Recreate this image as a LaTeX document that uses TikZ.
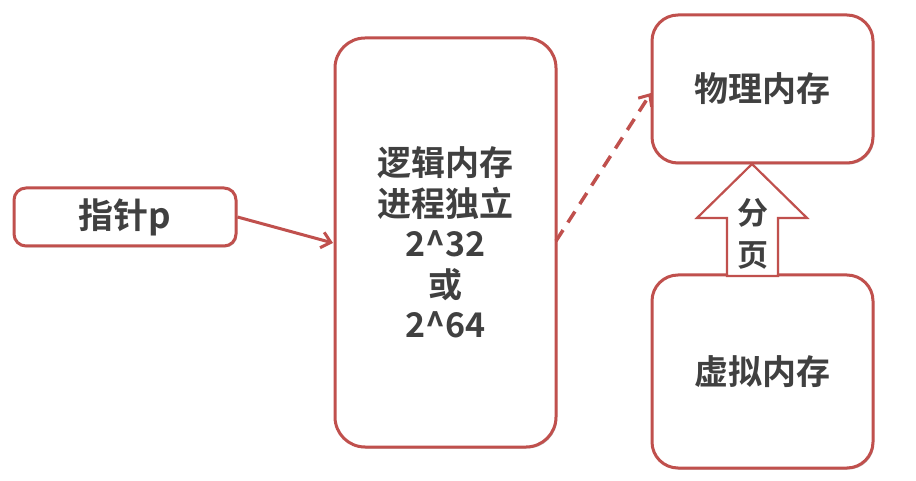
\documentclass[tikz,border=0pt]{standalone}
\usepackage{fontspec}
\setmainfont{Noto Sans CJK SC}[BoldFont={* Bold}]
\usetikzlibrary{arrows.meta,shadows}
\definecolor{boxred}{HTML}{C0504D}
\definecolor{txt}{HTML}{404040}
\tikzset{
  membox/.style={draw=boxred, line width=3pt, fill=white, text=txt,
    font=\fontsize{34}{40.5}\selectfont\bfseries, align=center,
    drop shadow={shadow xshift=1.2pt, shadow yshift=-1.5pt, opacity=0.25, fill=black}},
  conn/.style={draw=boxred, line width=3pt, -{Straight Barb[length=9pt,width=16pt,line width=3pt]}},
}
\begin{document}
\begin{tikzpicture}[x=1pt,y=-1pt]
\useasboundingbox[fill=white] (0,0) rectangle (916,481);
\node[membox, rounded corners=12pt, minimum width=222pt, minimum height=58pt, font=\fontsize{35}{40}\selectfont\bfseries] (ptr) at (125,217) {指针p};
\node[membox, rounded corners=30pt, minimum width=221pt, minimum height=409pt] (logic) at (445.5,242.5) {逻辑内存\\进程独立\\2\textasciicircum32\\或\\2\textasciicircum64};
\node[membox, rounded corners=26pt, minimum width=221pt, minimum height=148pt] (phys) at (762.5,89) {物理内存};
\node[membox, rounded corners=26pt, minimum width=221pt, minimum height=193pt] (virt) at (762.5,371.5) {虚拟内存};
\coordinate (ptrend) at (333,243);
\draw[conn] (ptr.east) -- (ptrend);
\coordinate (dstart) at (556,241);
\coordinate (dend) at (651,93);
\draw[conn, line width=3.5pt, dash pattern=on 13pt off 9pt] (dstart) -- (dend);
\draw[draw=boxred, line width=2.2pt, fill=white, line join=miter,
  drop shadow={shadow xshift=1pt, shadow yshift=-1pt, opacity=0.2, fill=black}]
  (727,276) -- (727,218) -- (697,218) -- (752,164) -- (807,218) -- (778,218) -- (778,276) -- cycle;
\node[text=txt, font=\fontsize{31}{42}\selectfont\bfseries, align=center] (fenye) at (752.5,234) {分\\页};
\end{tikzpicture}
\end{document}
